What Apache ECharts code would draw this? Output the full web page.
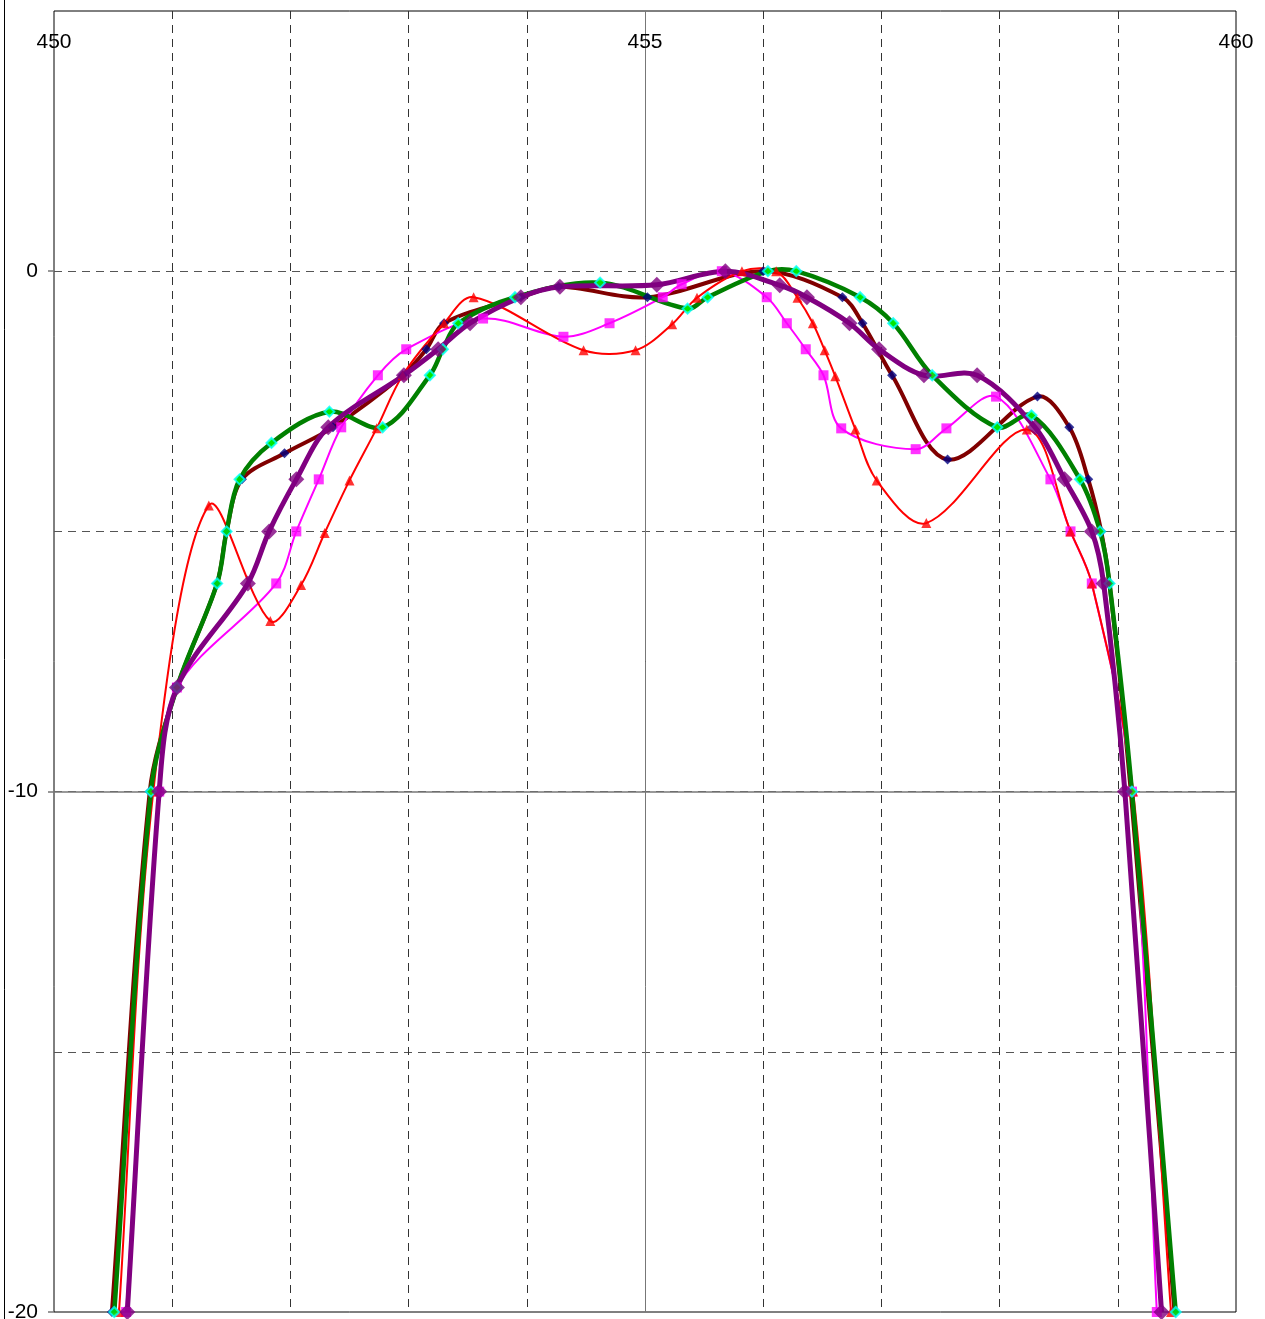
<!DOCTYPE html>
<html>
<head>
<meta charset="utf-8">
<script src="https://cdn.jsdelivr.net/npm/echarts@6/dist/echarts.min.js"></script>
<style>
html,body{margin:0;padding:0;background:#fff;}
#chart{width:1265px;height:1319px;}
</style>
</head>
<body>
<div id="chart"></div>
<script>
// ---- data (x = frequency, y = level) ----
const xTickLabels = [450, 455, 460];
const yTickLabels = [-20, -10, 0];

const maroonPts = [[450.49,-20],[450.81,-10],[451.04,-8],[451.38,-6],[451.46,-5],[451.59,-4],[451.95,-3.5],[452.36,-3],[452.95,-2],[453.15,-1.5],[453.30,-1],[453.95,-0.5],[454.27,-0.3],[455.02,-0.5],[456.0,0],[456.67,-0.5],[456.84,-1],[457.09,-2],[457.56,-3.62],[458.32,-2.41],[458.59,-3],[458.75,-4],[458.86,-5],[458.93,-6],[459.11,-10],[459.48,-20]];

const greenPts = [[450.51,-20],[450.82,-10],[451.04,-8],[451.38,-6],[451.46,-5],[451.57,-4],[451.84,-3.3],[452.33,-2.7],[452.78,-3],[453.18,-2],[453.29,-1.5],[453.42,-1],[453.9,-0.5],[454.62,-0.22],[455.36,-0.72],[455.53,-0.5],[456.04,0],[456.28,0],[456.82,-0.5],[457.1,-1],[457.43,-2],[457.98,-3],[458.27,-2.77],[458.68,-4],[458.85,-5],[458.93,-6],[459.12,-10],[459.49,-20]];

const redPts = [[450.55,-20],[450.84,-10],[451.31,-4.5],[451.83,-6.72],[452.09,-6.03],[452.29,-5.03],[452.5,-4.02],[452.73,-3.02],[452.95,-2],[453.3,-1],[453.55,-0.5],[454.48,-1.52],[454.92,-1.52],[455.23,-1.02],[455.44,-0.51],[455.82,0],[456.11,0],[456.29,-0.51],[456.42,-1],[456.52,-1.52],[456.61,-2.02],[456.78,-3.04],[456.96,-4.02],[457.38,-4.84],[458.23,-3.04],[458.6,-5],[458.78,-6],[459.13,-10],[459.45,-20]];

const magentaPts = [[450.61,-20],[450.89,-10],[451.04,-8],[451.88,-6],[452.05,-5],[452.24,-4],[452.43,-3],[452.74,-2],[452.98,-1.5],[453.63,-0.91],[454.31,-1.26],[454.7,-1],[455.15,-0.5],[455.31,-0.25],[455.65,0],[456.03,-0.5],[456.2,-1],[456.36,-1.5],[456.51,-2],[456.66,-3.02],[457.29,-3.42],[457.55,-3.02],[457.97,-2.41],[458.43,-4],[458.6,-5],[458.78,-6],[459.12,-10],[459.33,-20]];

const purplePts = [[450.62,-20],[450.89,-10],[451.04,-8],[451.64,-6],[451.82,-5],[452.05,-4],[452.32,-3],[452.96,-2],[453.25,-1.5],[453.52,-1],[453.95,-0.5],[454.28,-0.3],[455.1,-0.26],[455.68,0],[456.14,-0.27],[456.37,-0.5],[456.73,-1],[456.98,-1.5],[457.36,-2],[457.81,-2],[458.3,-3],[458.55,-4],[458.78,-5],[458.88,-6],[459.06,-10],[459.37,-20]];

const FONT = '"Liberation Sans", Arial, sans-serif';
const chart = echarts.init(document.getElementById('chart'), null, {renderer: 'canvas'});

// Spreadsheet-style smoothed curve (Catmull-Rom Bezier) built in pixel space from api.coord
function curveSeries(pts, color, width) {
  return {
    type: 'custom', xAxisIndex: 0, yAxisIndex: 0, clip: true, silent: true,
    data: pts,
    renderItem: function (params, api) {
      if (params.dataIndex !== 0) return null;
      const P = pts.map(function (p) { return api.coord(p); });
      const n = P.length;
      let d = 'M' + P[0][0] + ' ' + P[0][1];
      for (let i = 0; i < n - 1; i++) {
        const p0 = P[Math.max(i - 1, 0)], p1 = P[i], p2 = P[i + 1], p3 = P[Math.min(i + 2, n - 1)];
        const d01 = Math.hypot(p1[0] - p0[0], p1[1] - p0[1]);
        const d12 = Math.hypot(p2[0] - p1[0], p2[1] - p1[1]);
        const d23 = Math.hypot(p3[0] - p2[0], p3[1] - p2[1]);
        const f1 = (d01 + d12) > 0 ? d12 / (d01 + d12) / 3 * 1.0 : 0;
        const f2 = (d12 + d23) > 0 ? d12 / (d12 + d23) / 3 * 1.0 : 0;
        const c1x = p1[0] + (p2[0] - p0[0]) * f1, c1y = p1[1] + (p2[1] - p0[1]) * f1;
        const c2x = p2[0] - (p3[0] - p1[0]) * f2, c2y = p2[1] - (p3[1] - p1[1]) * f2;
        d += ' C' + c1x + ' ' + c1y + ' ' + c2x + ' ' + c2y + ' ' + p2[0] + ' ' + p2[1];
      }
      return {
        type: 'path',
        shape: {pathData: d},
        style: {stroke: color, lineWidth: width, fill: null, lineJoin: 'round', lineCap: 'round'}
      };
    }
  };
}

function markerSeries(pts, symbol, size, itemStyle) {
  return {
    type: 'scatter', xAxisIndex: 0, yAxisIndex: 0, data: pts,
    symbol: symbol, symbolSize: size, itemStyle: itemStyle, silent: true, clip: false
  };
}

chart.setOption({
  animation: false,
  backgroundColor: '#fff',
  grid: {left: 54, right: 29, top: 11, bottom: 7, show: true, borderColor: '#000', borderWidth: 1,
         backgroundColor: 'transparent', containLabel: false, outerBoundsMode: 'none'},
  graphic: [{type: 'line', shape: {x1: 4.5, y1: 0, x2: 4.5, y2: 1319}, style: {stroke: '#000', lineWidth: 1}, silent: true}],
  xAxis: [
    {type: 'value', min: 450, max: 460, interval: 1, position: 'bottom',
     axisLine: {show: false}, axisTick: {show: false}, axisLabel: {show: false},
     splitLine: {show: true, showMinLine: false, showMaxLine: false, lineStyle: {color: '#333', width: 1, type: [8, 6]}}},
    {type: 'value', min: 450, max: 460, interval: 5, position: 'top',
     axisLine: {show: false}, axisTick: {show: false},
     axisLabel: {show: true, inside: true, margin: 21, fontSize: 21, fontFamily: FONT, color: '#000', showMinLabel: true, showMaxLabel: true, customValues: xTickLabels},
     splitLine: {show: true, showMinLine: false, showMaxLine: false, lineStyle: {color: '#777', width: 1}}}
  ],
  yAxis: [
    {type: 'value', min: -20, max: 5, interval: 5, position: 'right',
     axisLine: {show: false}, axisTick: {show: false}, axisLabel: {show: false},
     splitLine: {show: true, showMinLine: false, showMaxLine: false, lineStyle: {color: '#555', width: 1, type: [8, 6]}}},
    {type: 'value', min: -20, max: 5, interval: 10, position: 'left',
     axisLine: {show: false},
     axisTick: {show: true, length: 6, customValues: yTickLabels, lineStyle: {color: '#777', width: 1.5}},
     axisLabel: {show: true, margin: 16, fontSize: 21, fontFamily: FONT, color: '#000', customValues: yTickLabels},
     splitLine: {show: true, showMinLine: false, showMaxLine: false, lineStyle: {color: '#777', width: 1.5}}}
  ],
  series: [
    curveSeries(maroonPts, '#800000', 4),
    markerSeries(maroonPts, 'diamond', 10, {color: '#000080'}),
    curveSeries(magentaPts, '#FF00FF', 2),
    markerSeries(magentaPts, 'rect', 10, {color: '#FF00FF'}),
    curveSeries(redPts, '#FF0000', 2),
    markerSeries(redPts, 'triangle', 10, {color: '#FF0000'}),
    curveSeries(greenPts, '#008000', 4.5),
    markerSeries(greenPts, 'diamond', 10, {color: '#00FF00', borderColor: '#00FFFF', borderWidth: 2}),
    curveSeries(purplePts, '#800080', 5),
    markerSeries(purplePts, 'diamond', 16, {color: '#800080'})
  ]
});
</script>
</body>
</html>
